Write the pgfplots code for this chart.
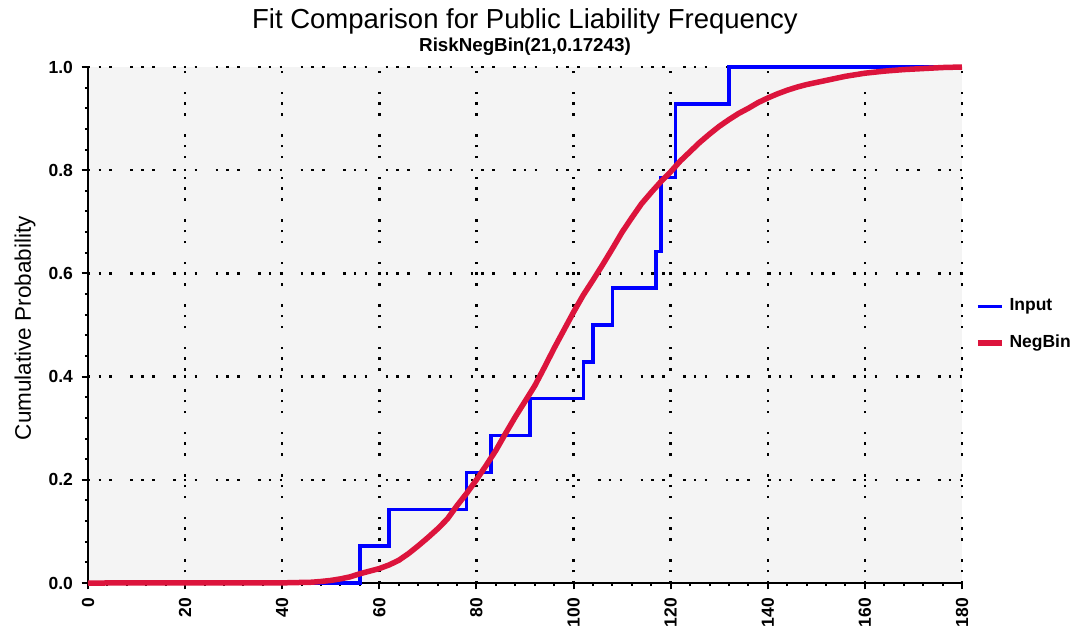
\documentclass[border=0pt]{standalone}
\usepackage{pgfplots}
\pgfplotsset{compat=1.18}
\usepackage{fontspec}
\setmainfont{Liberation Sans}
\definecolor{inputblue}{HTML}{0000FF}
\definecolor{negred}{HTML}{DC143C}
\definecolor{plotbg}{HTML}{F4F4F4}

\pgfplotstableread{
x y
40 0
56 0.0714
62 0.1429
78 0.2143
83 0.2857
91 0.3571
102 0.4286
104 0.5000
108 0.5714
117 0.6429
118 0.7857
121 0.9286
132 1.0
180 1.0
}\inputdata

\pgfplotstableread{
x y
0 0
40 0.0003
46 0.0015
48 0.003
50 0.005
52 0.008
54 0.012
56 0.018
58 0.023
60 0.028
62 0.035
64 0.044
66 0.057
68 0.072
70 0.088
72 0.105
74 0.124
76 0.150
78 0.174
80 0.200
82 0.228
84 0.257
86 0.290
88 0.322
90 0.352
92 0.382
94 0.418
96 0.455
98 0.490
100 0.525
102 0.558
104 0.587
106 0.617
108 0.648
110 0.680
112 0.708
114 0.735
116 0.757
118 0.778
120 0.797
122 0.818
124 0.836
126 0.854
128 0.870
130 0.885
132 0.898
134 0.910
136 0.920
138 0.931
140 0.940
142 0.948
144 0.955
146 0.961
148 0.966
150 0.970
152 0.974
154 0.978
156 0.982
158 0.985
160 0.988
164 0.992
168 0.995
172 0.997
176 0.999
180 1.0
}\negbindata

\begin{document}
\begin{tikzpicture}
\path[use as bounding box] (-35.2pt,-19.6pt) rectangle (395.2pt,233.2pt);
\begin{axis}[
  name=ax, at={(0,0)}, anchor=south west,
  scale only axis, width=349.6pt, height=206.4pt,
  xmin=0, xmax=180, ymin=0, ymax=1,
  xtick={0,20,...,180}, ytick={0,0.2,0.4,0.6,0.8,1.0},
  minor x tick num=4, minor y tick num=4,
  axis background/.style={fill=plotbg},
  axis lines=left, axis line style={-, black, line width=0.8pt},
  tick style={black, line width=0.8pt},
  major tick length=2.5pt, minor tick length=1.2pt,
  tick align=outside,
  grid=major,
  major grid style={black, line width=1pt, dash pattern=on 1pt off 3.3pt on 1pt off 3.3pt on 1pt off 7.4pt},
  clip=false,
  /pgf/number format/assume math mode=true,
  tick label style={font=\fontsize{7}{8}\selectfont\bfseries},
  yticklabel style={/pgf/number format/fixed, /pgf/number format/fixed zerofill, /pgf/number format/precision=1},
  xticklabel style={rotate=90, anchor=east},
  ylabel={Cumulative Probability},
  ylabel style={font=\fontsize{9}{10}\selectfont, at={(axis description cs:-0.072,0.494)}, anchor=center},
  legend style={at={(1,0.5)}, anchor=west, xshift=5pt, draw=none, fill=none,
    font=\fontsize{7}{8}\selectfont\bfseries, row sep=4.2pt, inner sep=0pt},
  legend cell align=left,
  legend image code/.code={\draw[#1] (0pt,0pt) -- (9.6pt,0pt);},
]
\addplot[const plot, color=inputblue, line width=1.4pt] table {\inputdata};
\addlegendentry{Input}
\addplot[color=negred, line width=2.2pt, line join=round] table {\negbindata};
\addlegendentry{NegBin}
\end{axis}
\node[font=\fontsize{11}{12}\selectfont] at ([yshift=18.4pt]ax.north) {Fit Comparison for Public Liability Frequency};
\node[font=\fontsize{7.5}{8}\selectfont\bfseries] at ([yshift=8pt]ax.north) {RiskNegBin(21,0.17243)};
\end{tikzpicture}
\end{document}
